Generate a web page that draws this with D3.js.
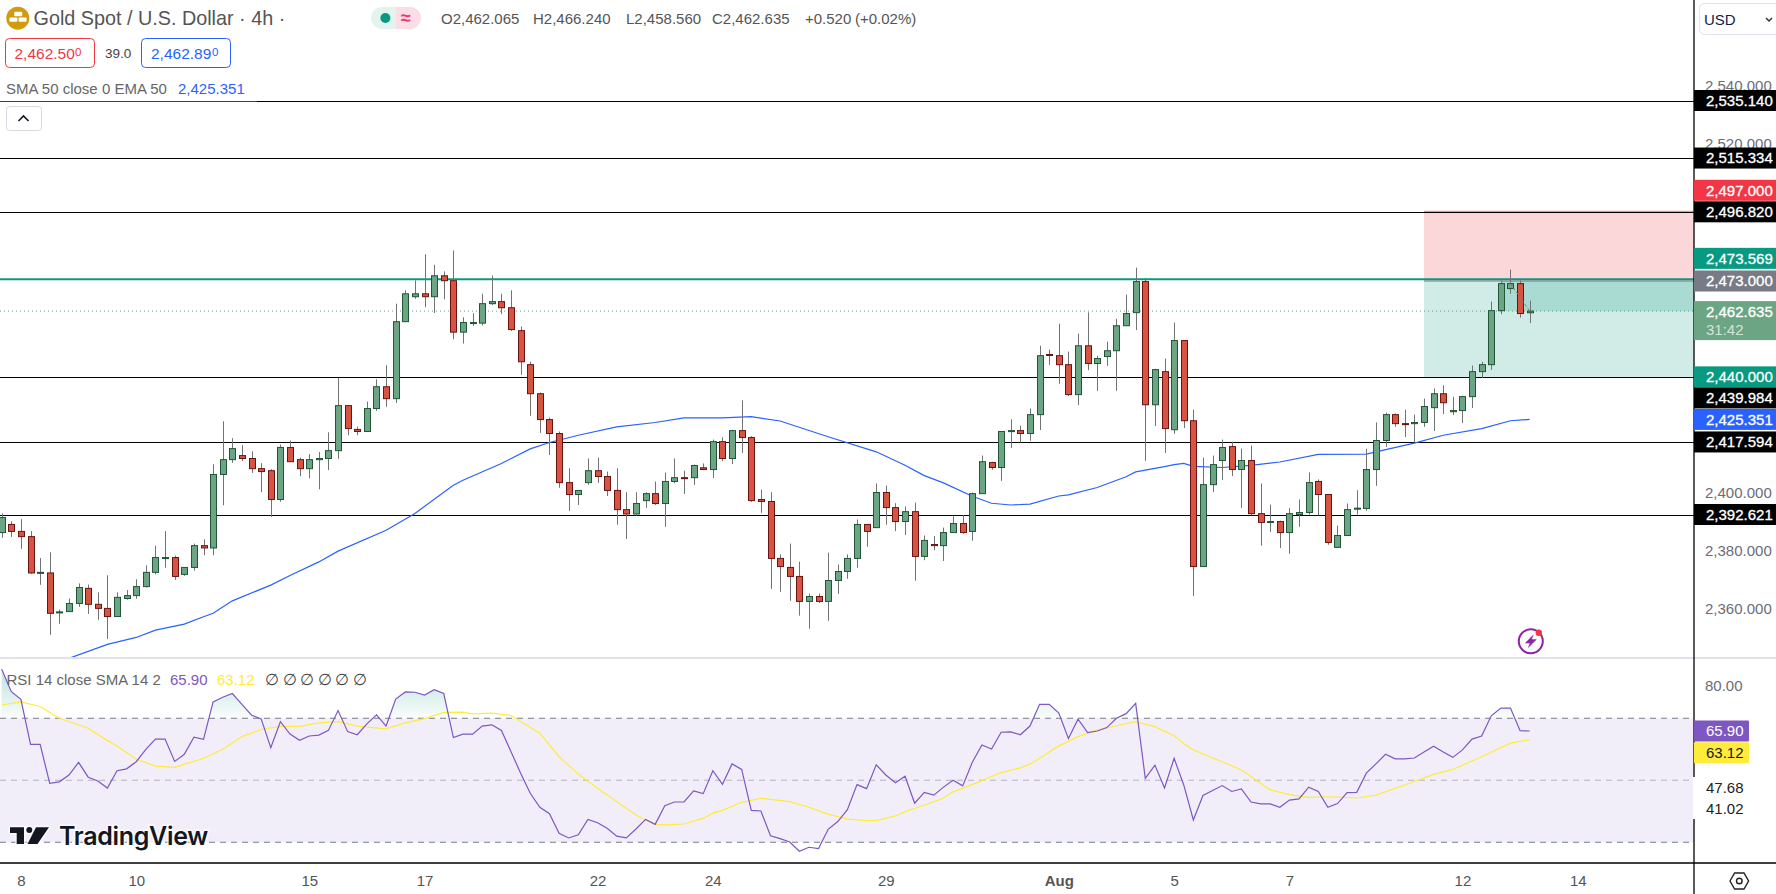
<!DOCTYPE html>
<html>
<head>
<meta charset="utf-8">
<title>Gold Spot / U.S. Dollar</title>
<script src="https://cdn.jsdelivr.net/npm/d3@7/dist/d3.min.js"></script>
<style>
  html, body { margin: 0; padding: 0; background: #fff; }
  svg { display: block; }
  text { font-family: "Liberation Sans", sans-serif; }
  .axis .domain { display: none; }
</style>
</head>
<body>
<svg id="chart" width="1776" height="894"></svg>
<script>
const opens = [
  2386.4,2389.2,2386.8,2385.0,2372.5,2372.5,2358.9,2359.2,2362.0,2367.2,
  2361.7,2360.3,2357.5,2363.7,2364.7,2367.8,2372.7,2377.7,2377.8,2372.0,
  2374.4,2381.9,2381.1,2406.4,2411.5,2412.9,2411.9,2408.4,2407.7,2397.8,
  2415.7,2411.5,2408.4,2411.5,2411.9,2414.6,2430.1,2421.9,2421.2,2429.1,
  2436.6,2432.5,2459.0,2467.6,2468.6,2467.6,2474.8,2473.1,2455.4,2458.5,
  2458.5,2465.2,2465.9,2463.8,2455.9,2444.2,2434.2,2425.3,2420.5,2403.6,
  2399.5,2403.6,2407.7,2405.7,2400.9,2394.3,2392.8,2397.4,2399.8,2396.4,
  2404.0,2405.3,2405.3,2408.7,2408.1,2417.7,2411.9,2421.5,2419.1,2397.8,
  2397.1,2377.5,2374.4,2371.3,2362.7,2364.4,2362.7,2369.9,2373.0,2377.5,
  2389.2,2388.1,2400.2,2395.0,2390.2,2393.6,2378.2,2382.3,2381.9,2386.4,
  2389.5,2386.8,2399.8,2410.5,2408.8,2421.4,2421.5,2420.5,2427.0,2447.7,
  2447.3,2444.2,2433.9,2450.7,2444.6,2447.0,2449.0,2457.6,2462.1,2472.8,
  2430.4,2441.8,2421.8,2452.5,2424.9,2374.7,2402.9,2411.2,2416.0,2408.1,
  2411.2,2392.9,2390.1,2390.2,2386.4,2392.6,2393.3,2404.0,2399.5,2381.3,
  2385.4,2394.6,2394.7,2408.1,2418.1,2427.0,2423.9,2423.9,2424.3,2429.4,
  2434.2,2428.0,2428.4,2433.2,2441.8,2444.2,2462.8,2470.4,2472.1,2462.07
];
const highs = [
  2393.0,2390.3,2391.0,2386.9,2377.6,2379.6,2359.9,2363.7,2368.9,2368.5,
  2365.8,2371.7,2365.8,2366.6,2370.3,2375.1,2381.9,2386.9,2378.5,2374.4,
  2382.6,2384.1,2409.9,2424.7,2418.9,2416.5,2414.4,2410.3,2408.2,2416.7,
  2418.1,2412.2,2413.4,2414.1,2420.9,2439.7,2430.1,2422.9,2431.5,2439.2,
  2444.0,2465.2,2469.8,2473.2,2482.2,2478.6,2476.3,2483.5,2460.5,2461.9,
  2468.6,2474.9,2468.6,2469.8,2457.3,2445.2,2434.6,2426.0,2421.2,2408.5,
  2400.9,2411.9,2412.2,2407.4,2408.5,2400.3,2400.3,2400.3,2404.0,2407.1,
  2411.9,2407.7,2409.8,2410.2,2418.4,2419.2,2421.8,2431.9,2419.6,2401.2,
  2400.3,2378.9,2382.6,2376.4,2365.4,2365.4,2379.5,2375.4,2378.9,2390.9,
  2389.2,2403.3,2402.6,2396.5,2395.4,2396.7,2385.4,2385.2,2388.1,2392.0,
  2392.4,2400.2,2412.9,2410.8,2421.2,2425.4,2423.2,2429.1,2450.7,2449.4,
  2458.3,2448.7,2454.9,2462.2,2447.3,2452.1,2460.0,2468.3,2477.6,2474.1,
  2442.8,2446.3,2458.7,2452.5,2428.7,2412.2,2412.9,2418.4,2417.7,2415.3,
  2416.3,2403.3,2396.0,2390.5,2394.8,2397.8,2407.1,2404.7,2399.5,2388.8,
  2396.4,2401.0,2415.3,2424.3,2427.7,2427.4,2428.7,2427.0,2432.5,2436.0,
  2437.1,2433.2,2433.5,2443.9,2445.2,2465.9,2473.2,2476.9,2473.2,2466.24
];
const lows = [
  2384.6,2384.9,2380.8,2372.2,2368.4,2351.2,2355.0,2359.2,2360.8,2358.4,
  2356.4,2349.8,2357.5,2363.3,2363.6,2367.5,2372.0,2374.3,2370.1,2371.5,
  2373.3,2378.6,2378.6,2395.8,2410.4,2411.0,2406.9,2400.3,2391.8,2397.0,
  2410.8,2405.8,2405.1,2401.3,2407.9,2411.8,2419.9,2419.9,2421.2,2428.3,
  2429.7,2431.0,2459.0,2466.9,2464.0,2462.0,2466.7,2452.9,2451.5,2457.5,
  2457.7,2464.7,2461.6,2455.8,2440.7,2426.6,2420.7,2413.1,2401.8,2393.9,
  2395.9,2402.9,2403.5,2399.0,2389.1,2384.2,2392.2,2394.9,2395.9,2388.4,
  2403.4,2399.7,2402.8,2407.9,2405.2,2411.0,2410.0,2413.8,2397.0,2393.2,
  2367.0,2366.0,2362.9,2357.8,2353.3,2362.2,2356.0,2365.3,2370.5,2374.3,
  2381.5,2388.1,2389.1,2386.9,2385.6,2369.8,2376.9,2380.3,2376.6,2386.4,
  2386.0,2383.6,2399.8,2408.0,2404.2,2415.5,2417.4,2418.0,2421.7,2444.1,
  2437.6,2433.4,2430.3,2442.3,2435.2,2443.8,2435.2,2457.6,2456.1,2411.1,
  2423.1,2413.8,2420.4,2422.4,2364.6,2374.7,2400.4,2404.5,2405.9,2394.9,
  2392.3,2381.9,2386.6,2381.1,2379.1,2388.4,2392.6,2392.3,2382.2,2381.3,
  2385.4,2392.6,2393.9,2402.5,2415.9,2422.8,2419.3,2417.4,2422.8,2421.4,
  2427.2,2426.9,2424.1,2429.3,2439.7,2442.4,2461.6,2468.6,2460.4,2458.56
];
const closes = [
  2391.6,2386.8,2385.0,2372.5,2372.7,2358.6,2359.1,2362.0,2367.5,2361.7,
  2360.3,2357.5,2364.1,2364.7,2367.8,2372.7,2377.8,2377.8,2371.3,2374.4,
  2381.9,2381.1,2406.4,2411.5,2415.3,2411.9,2408.4,2407.4,2397.8,2415.7,
  2410.8,2408.4,2411.5,2411.9,2414.6,2430.1,2422.2,2421.2,2429.1,2436.6,
  2432.5,2459.0,2468.6,2468.6,2467.6,2474.8,2473.1,2455.4,2458.7,2458.7,
  2465.2,2465.9,2463.8,2456.3,2445.2,2434.2,2425.3,2420.5,2403.6,2399.5,
  2400.9,2407.7,2405.7,2400.9,2394.3,2392.8,2396.4,2399.8,2396.4,2404.0,
  2405.3,2405.2,2409.5,2408.1,2417.7,2411.9,2421.5,2419.1,2397.4,2397.1,
  2377.5,2374.7,2371.3,2362.7,2364.4,2362.7,2369.9,2373.0,2377.5,2389.2,
  2386.8,2400.2,2395.0,2390.2,2393.6,2378.2,2383.7,2381.9,2386.4,2389.5,
  2386.4,2399.8,2410.8,2408.8,2421.2,2421.5,2420.5,2427.0,2447.3,2447.5,
  2444.2,2433.9,2450.7,2444.6,2446.3,2449.0,2457.6,2461.8,2472.8,2430.4,
  2442.5,2422.2,2452.5,2424.9,2374.7,2402.9,2409.8,2415.7,2408.1,2411.2,
  2392.9,2389.9,2390.2,2386.4,2392.9,2393.3,2403.6,2399.5,2383.0,2385.4,
  2394.3,2394.8,2408.1,2418.1,2427.0,2423.9,2423.8,2424.3,2429.8,2434.2,
  2431.1,2428.4,2433.2,2441.8,2444.2,2462.8,2472.1,2472.1,2461.8,2462.64
];

const emaBars = [7,11,14,16,19,21,22,24,28,30,33,35,40,43,47,48,52,55,57,60,64,68,71,75,78,81,86,91,92,94,96,98,101,103,105,107,110,111,114,117,118,121,122,123,124,127,130,133,137,142,143,147,150,154,157,159];
const emaValues = [2343.1,2347.9,2350.3,2352.8,2354.9,2357.4,2358.6,2362.9,2368.3,2371.6,2376.3,2380.0,2387.2,2393.0,2402.7,2404.4,2410.2,2415.2,2417.4,2419.9,2422.8,2424.3,2425.9,2425.9,2426.3,2424.8,2419.4,2414.2,2412.7,2409.6,2406.0,2403.5,2398.9,2396.5,2395.9,2396.2,2399.0,2399.4,2401.9,2405.6,2407.3,2409.1,2409.8,2410.2,2409.2,2408.8,2409.5,2410.7,2413.3,2413.4,2414.2,2417.2,2419.9,2422.2,2424.9,2425.351];

const rsiValues = [
  85.8,78.6,76.1,61.6,61.6,49.0,49.5,51.7,55.8,51.0,
  49.8,47.5,53.1,53.7,56.0,60.0,63.3,63.3,56.1,58.4,
  63.9,63.2,75.3,76.8,78.0,74.5,71.0,69.8,60.5,68.9,
  64.9,62.9,64.3,64.6,66.1,72.5,65.7,64.7,68.2,71.1,
  67.5,76.2,78.5,78.4,77.5,79.2,78.0,63.8,64.9,64.9,
  67.5,67.9,66.1,59.2,52.3,45.8,41.3,39.2,32.9,31.4,
  32.4,37.4,36.3,34.5,32.0,31.4,34.3,37.4,35.8,41.8,
  43.0,43.0,46.6,45.7,53.1,48.7,55.3,53.5,40.3,40.1,
  32.1,31.2,30.1,27.1,28.4,28.0,34.2,36.7,40.5,48.6,
  47.3,55.0,51.7,49.2,51.3,42.6,46.1,45.2,47.8,50.0,
  48.2,55.8,61.4,60.1,65.5,65.6,64.7,67.5,74.5,74.5,
  71.7,63.5,69.7,65.4,65.9,67.0,70.0,71.5,74.8,50.6,
  54.9,47.5,57.1,48.5,37.2,45.1,46.7,48.3,46.4,47.2,
  43.0,42.4,42.4,41.3,43.6,44.0,47.8,46.4,41.3,42.5,
  46.0,46.1,52.3,55.3,58.4,56.9,56.9,57.2,59.1,61.0,
  59.1,57.4,59.8,63.3,64.3,70.8,73.3,73.3,66.0,65.9
];
const rsiSmaBars = [0,2,4,6,9,11,12,14,16,18,21,23,25,27,29,31,33,35,37,40,42,44,46,48,49,51,53,56,58,60,62,66,67,68,69,71,73,74,75,77,79,82,84,86,88,90,91,93,94,95,98,99,100,102,104,106,107,108,110,112,114,116,118,120,122,123,124,127,129,130,132,134,136,138,141,143,146,149,151,154,157,159];
const rsiSmaValues = [74.3,75.3,73.8,70.0,66.8,62.8,61.1,56.8,54.6,54.2,57.1,60.0,64.1,66.4,67.4,67.4,68.5,68.9,67.5,66.6,68.5,69.9,71.9,72.0,71.4,71.7,70.9,65.2,57.6,52.0,47.4,38.8,37.2,35.8,35.6,35.9,37.7,39.4,40.3,42.9,44.2,43.1,41.3,39.1,37.5,37.0,37.0,38.5,39.9,40.9,44.2,46.3,47.4,49.9,52.5,54.0,55.2,57.1,61.1,64.1,66.2,67.6,68.9,67.3,64.4,61.9,59.8,56.0,53.3,51.2,46.9,45.4,44.5,44.7,44.3,45.2,48.5,51.9,53.5,57.6,62.0,63.12];

const levelLines = [2535.14, 2515.334, 2496.82, 2440, 2417.594, 2392.621];
const supportLine = 2473.569;
const lastPrice = 2462.635;
const tradeStop = 2497, tradeEntry = 2473, tradeTarget = 2440;
const tradeStartBar = 148, tradeFillBar = 156, lastBar = 159;

const priceTicks = [2540, 2520, 2400, 2380, 2360];
const rsiTicks = [80];
const rsiBands = [70, 50, 30];
const timeTickBars = [2, 14, 32, 44, 62, 74, 92, 110, 122, 134, 152, 164];
const timeTickLabels = ["8", "10", "15", "17", "22", "24", "29", "Aug", "5", "7", "12", "14"];

const labelPrices = [2535.14, 2515.334, 2497, 2496.82, 2473.569, 2473, 2440, 2439.984, 2425.351, 2417.594, 2392.621];
const labelColors = ["#000", "#000", "#f23645", "#000", "#089981", "#787b86", "#089981", "#000", "#2962ff", "#000", "#000"];
const labelStack = [0, 0, -1, 0, -1, 0, 0, 1, 0, 0, 0];
const rsiScaleValues = [47.68, 41.02];

const chartRight = 1694, priceBottom = 658, rsiBottom = 863, labelH = 21;

const svg = d3.select("#chart");
const defs = svg.append("defs");

const x = d3.scaleLinear().domain([0, lastBar]).range([1.7, 1529.7]);
const y = d3.scaleLinear().domain([2535.14, 2392.621]).range([100.5, 514.5]);
const rsiY = d3.scaleLinear().domain([70, 30]).range([718.3, 842.3]);
const fmt = d3.format(",.3f");

defs.append("clipPath").attr("id", "priceClip").append("rect")
  .attr("x", 0).attr("y", 0).attr("width", chartRight).attr("height", priceBottom);
defs.append("clipPath").attr("id", "overClip").append("rect")
  .attr("x", 0).attr("y", priceBottom).attr("width", chartRight).attr("height", rsiY(70) - priceBottom);
const grad = defs.append("linearGradient").attr("id", "overFill")
  .attr("gradientUnits", "userSpaceOnUse")
  .attr("x1", 0).attr("x2", 0).attr("y1", rsiY(82)).attr("y2", rsiY(70));
grad.append("stop").attr("offset", 0).attr("stop-color", "#089981").attr("stop-opacity", 0.22);
grad.append("stop").attr("offset", 1).attr("stop-color", "#089981").attr("stop-opacity", 0.02);

const price = svg.append("g").attr("clip-path", "url(#priceClip)");

// trade box
price.append("rect").attr("x", x(tradeStartBar)).attr("width", chartRight - x(tradeStartBar))
  .attr("y", y(tradeStop)).attr("height", y(tradeEntry) - y(tradeStop))
  .attr("fill", "#f23645").attr("fill-opacity", 0.2);
price.append("rect").attr("x", x(tradeStartBar)).attr("width", chartRight - x(tradeStartBar))
  .attr("y", y(tradeEntry)).attr("height", y(tradeTarget) - y(tradeEntry))
  .attr("fill", "#089981").attr("fill-opacity", 0.19);
price.append("rect").attr("x", x(tradeFillBar)).attr("width", chartRight - x(tradeFillBar))
  .attr("y", y(tradeEntry)).attr("height", y(lastPrice) - y(tradeEntry))
  .attr("fill", "#089981").attr("fill-opacity", 0.2);
price.append("line").attr("x1", x(tradeStartBar)).attr("x2", chartRight)
  .attr("y1", y(tradeStop)).attr("y2", y(tradeStop)).attr("stroke", "#f23645").attr("stroke-opacity", 0.6);
price.append("line").attr("x1", x(tradeStartBar)).attr("x2", chartRight)
  .attr("y1", y(tradeEntry)).attr("y2", y(tradeEntry)).attr("stroke", "#787b86").attr("stroke-width", 1.2);

// horizontal levels
price.selectAll("line.level").data(levelLines).join("line").attr("class", "level")
  .attr("x1", 0).attr("x2", chartRight)
  .attr("y1", d => Math.round(y(d)) + 0.5).attr("y2", d => Math.round(y(d)) + 0.5)
  .attr("stroke", "#000").attr("stroke-width", 1);
price.append("line").attr("x1", 0).attr("x2", chartRight)
  .attr("y1", y(supportLine)).attr("y2", y(supportLine))
  .attr("stroke", "#089981").attr("stroke-width", 2);
price.append("line").attr("x1", 0).attr("x2", chartRight)
  .attr("y1", y(lastPrice)).attr("y2", y(lastPrice))
  .attr("stroke", "#6ba583").attr("stroke-dasharray", "1 3");

// ema
price.append("path").datum(emaBars)
  .attr("d", d3.line().x(d => x(d)).y((d, i) => y(emaValues[i])))
  .attr("fill", "none").attr("stroke", "#2962ff").attr("stroke-width", 1.2);

// candles
const candles = price.selectAll("g.candle").data(d3.range(opens.length)).join("g").attr("class", "candle");
candles.append("line")
  .attr("x1", i => Math.round(x(i)) + 0.5).attr("x2", i => Math.round(x(i)) + 0.5)
  .attr("y1", i => y(highs[i])).attr("y2", i => y(lows[i]))
  .attr("stroke", "#737375");
candles.append("rect")
  .attr("x", i => Math.round(x(i)) - 2.5).attr("width", 6)
  .attr("y", i => y(Math.max(opens[i], closes[i])))
  .attr("height", i => Math.max(1, Math.abs(y(opens[i]) - y(closes[i]))))
  .attr("fill", i => closes[i] >= opens[i] ? "#6ba583" : "#d75442")
  .attr("stroke", i => closes[i] >= opens[i] ? "#225437" : "#6b1313");

// trade path
price.append("path").datum([157, lastBar])
  .attr("d", d3.line().x(d => x(d)).y((d, i) => y(i ? lastPrice : closes[157])))
  .attr("fill", "none").attr("stroke", "#787b86").attr("stroke-dasharray", "3 2");

// pane separator
svg.append("line").attr("x1", 0).attr("x2", 1776).attr("y1", priceBottom).attr("y2", priceBottom)
  .attr("stroke", "#e0e3eb").attr("stroke-width", 2);

// rsi pane
svg.append("rect").attr("x", 0).attr("width", chartRight)
  .attr("y", rsiY(70)).attr("height", rsiY(30) - rsiY(70)).attr("fill", "#7e57c2").attr("fill-opacity", 0.1);
svg.selectAll("line.band").data(rsiBands).join("line").attr("class", "band")
  .attr("x1", 0).attr("x2", chartRight)
  .attr("y1", d => rsiY(d)).attr("y2", d => rsiY(d))
  .attr("stroke", d => d === 50 ? "#b2b5be" : "#787b86").attr("stroke-width", 1.1).attr("stroke-dasharray", "6 5");
svg.append("path").datum(rsiValues)
  .attr("clip-path", "url(#overClip)")
  .attr("d", d3.area().x((d, i) => x(i)).y0(rsiY(70)).y1(d => rsiY(d)))
  .attr("fill", "url(#overFill)");
svg.append("path").datum(rsiSmaBars)
  .attr("d", d3.line().x(d => x(d)).y((d, i) => rsiY(rsiSmaValues[i])))
  .attr("fill", "none").attr("stroke", "#ffeb3b").attr("stroke-width", 1.2);
svg.append("path").datum(rsiValues)
  .attr("d", d3.line().x((d, i) => x(i)).y(d => rsiY(d)))
  .attr("fill", "none").attr("stroke", "#7e57c2").attr("stroke-width", 1.2);

// watermark
const logo = svg.append("g").attr("fill", "#131722").attr("stroke", "#fff").attr("stroke-width", 3)
  .attr("stroke-opacity", 0.75).style("paint-order", "stroke");
logo.append("path").attr("d", "M10 827.3H24V844H16.7V833H10Z");
logo.append("circle").attr("cx", 29.3).attr("cy", 830).attr("r", 3);
logo.append("path").attr("d", "M36 827.3H49L37.5 844H27.5Z");
logo.append("text").attr("x", 59).attr("y", 845).attr("font-size", 25).attr("font-weight", 600)
  .style("font-family", "Inter").attr("letter-spacing", -0.3).text("TradingView");

// frame
svg.append("line").attr("x1", 0).attr("x2", 1776).attr("y1", rsiBottom).attr("y2", rsiBottom)
  .attr("stroke", "#000").attr("stroke-width", 1.3);
svg.append("line").attr("x1", chartRight).attr("x2", chartRight).attr("y1", 0).attr("y2", 894)
  .attr("stroke", "#000").attr("stroke-width", 1.3);

// time axis
const timeAxis = d3.axisBottom(x).tickValues(timeTickBars).tickSize(0)
  .tickFormat((d, i) => timeTickLabels[i]);
const timeG = svg.append("g").attr("class", "axis").attr("transform", `translate(0,${rsiBottom + 9})`).call(timeAxis);
timeG.selectAll("text").attr("font-size", 15).attr("fill", "#555").attr("font-family", "Liberation Sans")
  .attr("font-weight", (d, i) => timeTickLabels[i] === "Aug" ? 700 : 400);

// price axis
const priceAxis = d3.axisRight(y).tickValues(priceTicks).tickSize(0).tickFormat(fmt);
const priceG = svg.append("g").attr("class", "axis").attr("transform", `translate(1705,-0.5)`).call(priceAxis);
priceG.selectAll("text").attr("x", 0).attr("font-size", 15).attr("fill", "#6a6d78").attr("font-family", "Liberation Sans");

const rsiAxis = d3.axisRight(rsiY).tickValues(rsiTicks).tickSize(0).tickFormat(d3.format(".2f"));
const rsiG = svg.append("g").attr("class", "axis").attr("transform", `translate(1705,-2)`).call(rsiAxis);
rsiG.selectAll("text").attr("x", 0).attr("font-size", 15).attr("fill", "#6a6d78").attr("font-family", "Liberation Sans");

// price labels
const labels = svg.selectAll("g.plabel").data(labelPrices).join("g").attr("class", "plabel")
  .attr("transform", (d, i) => `translate(${chartRight},${y(d) + labelStack[i] * labelH})`);
labels.append("rect").attr("x", 0).attr("y", -labelH / 2).attr("width", 1776 - chartRight).attr("height", labelH)
  .attr("fill", (d, i) => labelColors[i]);
labels.append("text").attr("x", 12).attr("dy", "0.36em").attr("font-size", 15).attr("fill", "#fff")
  .attr("stroke", "#fff").attr("stroke-width", 0.3).text(d => fmt(d));

const lastLabel = svg.append("g").attr("transform", `translate(${chartRight},${y(lastPrice)})`);
lastLabel.append("rect").attr("x", 0).attr("y", -10).attr("width", 1776 - chartRight).attr("height", 39).attr("fill", "#6ba583");
lastLabel.append("text").attr("x", 12).attr("dy", "0.36em").attr("font-size", 15).attr("fill", "#fff")
  .attr("stroke", "#fff").attr("stroke-width", 0.3).text(fmt(lastPrice));
lastLabel.append("text").attr("x", 12).attr("y", 18).attr("dy", "0.36em").attr("font-size", 15).attr("fill", "#d3e4da").text("31:42");

// rsi labels
svg.append("rect").attr("x", chartRight - 1).attr("y", 777).attr("width", 56).attr("height", 42).attr("fill", "#fff");
svg.selectAll("text.rsiScale").data(rsiScaleValues).join("text").attr("class", "rsiScale")
  .attr("x", 1706).attr("y", (d, i) => 787.7 + i * 21.3).attr("dy", "0.36em")
  .attr("font-size", 15).attr("fill", "#222").text(d => d.toFixed(2));
const rsiLast = [{ v: 65.90, fill: "#7e57c2", text: "#fff", off: 0 }, { v: 63.12, fill: "#ffeb3b", text: "#131722", off: 13 }];
rsiLast.forEach(d => {
  const cy = rsiY(d.v) + d.off;
  svg.append("rect").attr("x", chartRight).attr("y", cy - 10.5).attr("width", 55).attr("height", 21).attr("fill", d.fill).attr("rx", 1);
  svg.append("text").attr("x", 1706).attr("y", cy).attr("dy", "0.36em").attr("font-size", 15).attr("fill", d.text).text(d.v.toFixed(2));
});

// header
const txt = (px, py, s, size, fill, extra) => {
  const t = svg.append("text").attr("x", px).attr("y", py).attr("font-size", size).attr("fill", fill).text(s);
  if (extra) t.attr("font-weight", extra);
  return t;
};
svg.append("circle").attr("cx", 17.8).attr("cy", 18.2).attr("r", 11.5).attr("fill", "#d19b0d");
svg.append("g").attr("fill", "#fff").selectAll("rect").data([[14.2, 11.8], [9.4, 17.4], [18.6, 17.4]]).join("rect")
  .attr("x", d => d[0]).attr("y", d => d[1]).attr("width", 8).attr("height", 4.4).attr("rx", 1);
txt(33.5, 25, "Gold Spot / U.S. Dollar · 4h ·", 19.8, "#555");

svg.append("path").attr("d", "M396 7H382a11 11 0 0 0 0 22H396Z").attr("fill", "#e3f3ee");
svg.append("path").attr("d", "M396 7H410a11 11 0 0 1 0 22H396Z").attr("fill", "#fbdde6");
svg.append("circle").attr("cx", 385.4).attr("cy", 18).attr("r", 5).attr("fill", "#089981");
txt(401, 24, "≈", 18, "#f23670", 700);

txt(441, 24, "O2,462.065", 15, "#555");
txt(533, 24, "H2,466.240", 15, "#555");
txt(626, 24, "L2,458.560", 15, "#555");
txt(712, 24, "C2,462.635", 15, "#555");
txt(805, 24, "+0.520", 15, "#555");
txt(855, 24, "(+0.02%)", 15, "#555");

svg.append("rect").attr("x", 5.5).attr("y", 38.5).attr("width", 89).attr("height", 29).attr("rx", 4)
  .attr("fill", "#fff").attr("stroke", "#f23645");
txt(14.5, 59, "2,462.50", 15.5, "#f23645");
txt(75, 56, "0", 11.5, "#f23645");
txt(105, 58, "39.0", 13.5, "#444");
svg.append("rect").attr("x", 141.5).attr("y", 38.5).attr("width", 89).attr("height", 29).attr("rx", 4)
  .attr("fill", "#fff").attr("stroke", "#2962ff");
txt(151, 59, "2,462.89", 15.5, "#2962ff");
txt(212, 56, "0", 11.5, "#2962ff");

txt(6, 94, "SMA 50 close 0 EMA 50", 15, "#666");
txt(178, 94, "2,425.351", 15, "#2962ff");
svg.append("rect").attr("x", 0).attr("y", 99).attr("width", 257).attr("height", 2.5).attr("fill", "#fff").attr("fill-opacity", 0.5);

svg.append("rect").attr("x", 6.5).attr("y", 106.5).attr("width", 35).attr("height", 24).attr("rx", 3)
  .attr("fill", "#fff").attr("stroke", "#d5d8e0");
svg.append("path").attr("d", "M18.5 121L23.5 116L28.5 121").attr("fill", "none").attr("stroke", "#131722").attr("stroke-width", 1.6);

svg.append("rect").attr("x", 1699.5).attr("y", 3.5).attr("width", 90).attr("height", 31).attr("rx", 5)
  .attr("fill", "#fff").attr("stroke", "#e0e3eb");
txt(1704, 25, "USD", 15, "#131b4a");
svg.append("path").attr("d", "M1766 18L1769 21L1772 18").attr("fill", "none").attr("stroke", "#333").attr("stroke-width", 1.5);

// rsi legend
txt(6.5, 685, "RSI 14 close SMA 14 2", 15, "#666");
txt(170, 685, "65.90", 15, "#7e57c2");
txt(217, 685, "63.12", 15, "#ffeb3b");
[270, 288, 305, 322.6, 340, 358].forEach(px => txt(px - 5, 685, "∅", 15.5, "#444"));

// lightning badge
const bolt = svg.append("g").attr("transform", "translate(1530.8,641.3)");
bolt.append("circle").attr("r", 12).attr("fill", "#fff").attr("stroke", "#8e24aa").attr("stroke-width", 2);
bolt.append("path").attr("d", "M3 -7L-6 2H-1L-3 7L6 -2H1Z").attr("fill", "#8e24aa");
bolt.append("circle").attr("cx", 8).attr("cy", -8.5).attr("r", 3.2).attr("fill", "#f23645");

// settings gear
svg.append("path").attr("d", "M1730 881L1734.6 873H1744L1748.6 881L1744 889H1734.6Z")
  .attr("fill", "none").attr("stroke", "#222").attr("stroke-width", 1.4);
svg.append("circle").attr("cx", 1739.3).attr("cy", 881).attr("r", 2.8).attr("fill", "none").attr("stroke", "#222").attr("stroke-width", 1.4);
</script>
</body>
</html>
